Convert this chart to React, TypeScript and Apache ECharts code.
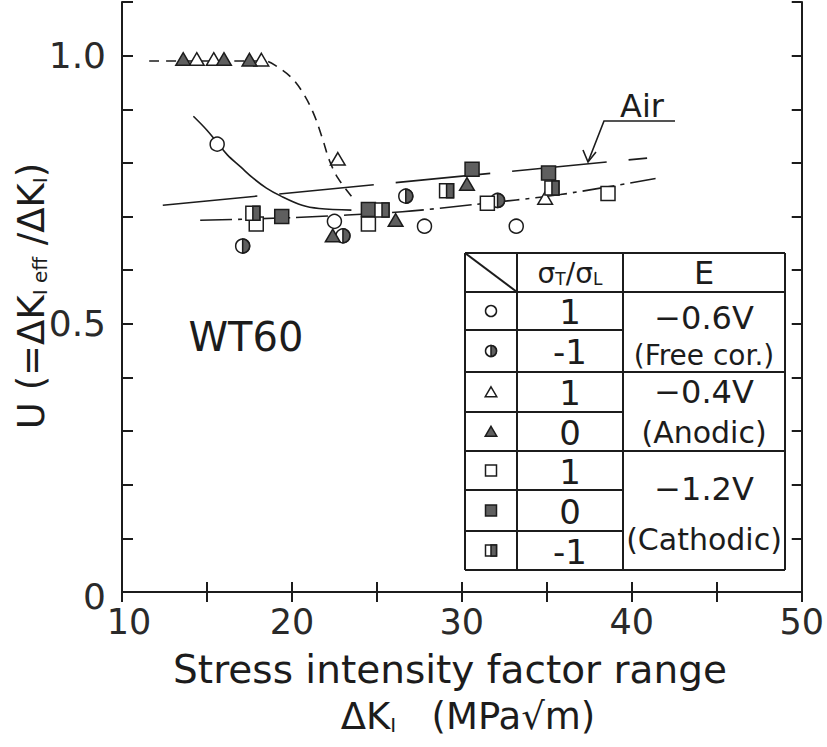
import React, { useEffect, useRef } from 'react';
import * as echarts from 'echarts';

// ---------- data (ΔK_I [MPa√m], U) ----------
const xTickLabels = [10, 20, 30, 40, 50];
const yTickLabels: [number, string][] = [[0, '0'], [0.5, '0.5'], [1.0, '1.0']];

const freeCorR1 = [[15.6, 0.835], [22.5, 0.691], [27.8, 0.682], [33.2, 0.682]]; // ○  σT/σL = 1, -0.6V
const freeCorRm1 = [[17.1, 0.645], [23.0, 0.664], [26.7, 0.738], [32.1, 0.730]]; // ◑ σT/σL = -1
const anodicR1 = [[14.4, 0.993], [15.4, 0.993], [18.2, 0.992], [22.7, 0.807], [34.9, 0.734]]; // △
const anodicR0 = [[13.6, 0.993], [16.0, 0.993], [17.5, 0.992], [22.4, 0.664], [26.1, 0.693], [30.3, 0.760]]; // ▲
const cathR1 = [[17.9, 0.686], [24.5, 0.686], [31.5, 0.725], [38.6, 0.743]]; // □
const cathR0 = [[19.4, 0.700], [24.5, 0.713], [30.6, 0.788], [35.1, 0.781]]; // ■
const cathRm1 = [[17.7, 0.706], [25.3, 0.712], [29.1, 0.748], [35.3, 0.753]]; // ◨

// fitted curves
const anodicCurve = [[11.6, 0.99], [18.4, 0.99], [19.2, 0.978], [20.0, 0.958], [20.7, 0.928], [21.3, 0.89], [21.8, 0.845], [22.2, 0.805], [22.7, 0.772], [23.5, 0.738]];
const freeCorCurve = [[14.2, 0.887], [15.0, 0.861], [15.6, 0.838], [16.2, 0.815], [17.0, 0.792], [17.7, 0.772], [18.5, 0.753], [19.3, 0.739], [20.6, 0.721], [21.6, 0.715], [23.5, 0.712]];
const airLine = [[12.4, 0.721], [40.9, 0.809]];
const fitLine = [[14.6, 0.693], [20.0, 0.698], [26.5, 0.709], [30.6, 0.722], [35.8, 0.741], [41.4, 0.771]];

const tableRatios = ['1', '-1', '1', '0', '1', '0', '-1'];
const tableKinds = ['circle', 'halfCircle', 'triOpen', 'triFilled', 'sqOpen', 'sqFilled', 'sqHalf'];

const INK = '#1c1c1c';
const GREY = '#5f5f5f';
const FONT = "'DejaVu Sans', sans-serif";

function markerEl(kind: string, cx: number, cy: number, s: number): any {
  const h = s / 2;
  const st = { stroke: INK, lineWidth: 1.5 };
  switch (kind) {
    case 'circle':
      return { type: 'circle', shape: { cx, cy, r: h }, style: { fill: '#fff', ...st } };
    case 'halfCircle':
      return {
        type: 'group',
        children: [
          { type: 'circle', shape: { cx, cy, r: h }, style: { fill: '#fff', ...st } },
          { type: 'sector', shape: { cx, cy, r0: 0, r: h, startAngle: -Math.PI / 2, endAngle: Math.PI / 2, clockwise: true }, style: { fill: GREY, ...st } },
        ],
      };
    case 'triOpen':
    case 'triFilled':
      return {
        type: 'polygon',
        shape: { points: [[cx, cy - h * 0.95], [cx + h * 1.05, cy + h * 0.85], [cx - h * 1.05, cy + h * 0.85]] },
        style: { fill: kind === 'triOpen' ? '#fff' : GREY, ...st },
      };
    case 'sqOpen':
    case 'sqFilled':
      return { type: 'rect', shape: { x: cx - h, y: cy - h, width: s, height: s }, style: { fill: kind === 'sqOpen' ? '#fff' : GREY, ...st } };
    case 'sqHalf':
    default:
      return {
        type: 'group',
        children: [
          { type: 'rect', shape: { x: cx - h, y: cy - h, width: s, height: s }, style: { fill: '#fff', ...st } },
          { type: 'rect', shape: { x: cx, y: cy - h, width: h, height: s }, style: { fill: GREY, ...st } },
        ],
      };
  }
}

function withZ(el: any, z: number): any {
  el.z = z;
  if (el.children) el.children.forEach((c: any) => withZ(c, z));
  return el;
}

function markerSeries(name: string, data: number[][], kind: string): any {
  return {
    name,
    type: 'custom',
    data,
    encode: { x: 0, y: 1 },
    z: 10,
    renderItem: (_p: any, api: any) => {
      const pt = api.coord([api.value(0), api.value(1)]);
      return markerEl(kind, pt[0], pt[1], 14);
    },
  };
}

function lineSeries(name: string, data: number[][], dash: any, smooth: number | boolean): any {
  return {
    name,
    type: 'line',
    data,
    symbol: 'none',
    smooth,
    z: 3,
    lineStyle: { color: INK, width: 1.6, type: dash },
  };
}

export default function App() {
  const ref = useRef<HTMLDivElement>(null);
  useEffect(() => {
    if (!ref.current) return;
    const chart = echarts.init(ref.current, undefined, { renderer: 'svg' });

    // table geometry
    const tL = 465, c1 = 517, c2 = 623, tR = 785;
    const rows = [253, 292, 330, 372, 412, 451, 490, 531, 570];
    const tableLines: any[] = [];
    const ln = (x1: number, y1: number, x2: number, y2: number) =>
      tableLines.push({ type: 'line', shape: { x1, y1, x2, y2 }, style: { stroke: INK, lineWidth: 2 }, z: 101 });
    ln(tL, rows[0], tR, rows[0]);
    ln(tL, rows[1], tR, rows[1]);
    ln(tL, rows[2], c2, rows[2]);
    ln(tL, rows[3], tR, rows[3]);
    ln(tL, rows[4], c2, rows[4]);
    ln(tL, rows[5], tR, rows[5]);
    ln(tL, rows[6], c2, rows[6]);
    ln(tL, rows[7], c2, rows[7]);
    ln(tL, rows[8], tR, rows[8]);
    [tL, c1, c2, tR].forEach((x) => ln(x, rows[0], x, rows[8]));
    ln(tL, rows[0], c1, rows[1]);

    const tableTexts: any[] = [];
    const txt = (text: string, x: number, y: number, size: number, extra: any = {}) =>
      tableTexts.push({
        type: 'text',
        x,
        y,
        z: 102,
        style: { text, fill: INK, font: `${size}px ${FONT}`, align: 'center', verticalAlign: 'middle', ...extra },
      });
    tableRatios.forEach((r, i) => {
      txt(r, (c1 + c2) / 2, (rows[i + 1] + rows[i + 2]) / 2 + 1, 34);
    });
    txt('E', (c2 + tR) / 2, 273, 32);
    tableTexts.push({
      type: 'text',
      x: (c1 + c2) / 2,
      y: 273,
      z: 102,
      style: {
        text: '{a|σ}{s|T}{a|/σ}{s|L}',
        align: 'center',
        verticalAlign: 'middle',
        fill: INK,
        rich: {
          a: { font: `28px ${FONT}`, fill: INK },
          s: { font: `17px ${FONT}`, fill: INK, verticalAlign: 'bottom', padding: [10, 0, 0, 0] },
        },
      },
    });
    const cx3 = (c2 + tR) / 2;
    txt('−0.6V', cx3, 318, 32);
    txt('(Free cor.)', cx3, 355, 28);
    txt('−0.4V', cx3, 392, 32);
    txt('(Anodic)', cx3, 432, 30);
    txt('−1.2V', cx3, 489, 32);
    txt('(Cathodic)', cx3, 539, 30);

    const legendMarks = tableKinds.map((k, i) =>
      withZ(markerEl(k, (tL + c1) / 2, (rows[i + 1] + rows[i + 2]) / 2, 11), 102)
    );

    const option: any = {
      animation: false,
      backgroundColor: '#fff',
      textStyle: { fontFamily: FONT },
      grid: { left: 122, right: 25, top: 2, bottom: 155, containLabel: false },
      xAxis: [
        {
          type: 'value',
          min: 10,
          max: 50,
          interval: 5,
          position: 'bottom',
          axisLine: { lineStyle: { color: INK, width: 2 } },
          axisTick: { inside: true, length: 10, lineStyle: { color: INK, width: 2 } },
          axisLabel: {
            color: '#2a2a2a',
            fontSize: 35,
            lineHeight: 36,
            margin: 12,
            formatter: (v: number) => (v === 10 ? '{f|10}' : xTickLabels.includes(v) ? String(v) : ''),
            rich: { f: { fontSize: 35, lineHeight: 36, color: '#2a2a2a', padding: [0, 0, 0, 14] } },
          },
          splitLine: { show: false },
        },
        {
          type: 'value',
          min: 10,
          max: 50,
          interval: 5,
          position: 'top',
          axisLine: { lineStyle: { color: INK, width: 2 } },
          axisTick: { inside: true, length: 10, lineStyle: { color: INK, width: 2 } },
          axisLabel: { show: false },
          splitLine: { show: false },
        },
      ],
      yAxis: [
        {
          type: 'value',
          min: 0,
          max: 1.1,
          interval: 0.1,
          position: 'left',
          axisLine: { lineStyle: { color: INK, width: 2 } },
          axisTick: { inside: true, length: 11, lineStyle: { color: INK, width: 2 } },
          axisLabel: {
            color: '#2a2a2a',
            fontSize: 36,
            margin: 16,
            formatter: (v: number) => {
              const hit = yTickLabels.find(([val]) => Math.abs(val - v) < 1e-6);
              if (!hit) return '';
              return hit[0] === 0 ? '{z|0}' : hit[1];
            },
            rich: { z: { fontSize: 36, color: '#2a2a2a', padding: [8, 0, 0, 0] } },
          },
          splitLine: { show: false },
        },
        {
          type: 'value',
          min: 0,
          max: 1.1,
          interval: 0.1,
          position: 'right',
          axisLine: { lineStyle: { color: INK, width: 2 } },
          axisTick: { inside: true, length: 10, lineStyle: { color: INK, width: 2 } },
          axisLabel: { show: false },
          splitLine: { show: false },
        },
      ],
      series: [
        lineSeries('Anodic fit', anodicCurve, [10, 7], 0.35),
        lineSeries('Free corrosion fit', freeCorCurve, 'solid', 0.35),
        lineSeries('Air', airLine, [95, 22], false),
        lineSeries('Cathodic fit', fitLine, [32, 6, 4, 6], 0.3),
        markerSeries('-0.6V, 1', freeCorR1, 'circle'),
        markerSeries('-0.6V, -1', freeCorRm1, 'halfCircle'),
        markerSeries('-0.4V, 1', anodicR1, 'triOpen'),
        markerSeries('-0.4V, 0', anodicR0, 'triFilled'),
        markerSeries('-1.2V, 1', cathR1, 'sqOpen'),
        markerSeries('-1.2V, 0', cathR0, 'sqFilled'),
        markerSeries('-1.2V, -1', cathRm1, 'sqHalf'),
      ],
      graphic: [
        { type: 'rect', shape: { x: tL, y: rows[0], width: tR - tL, height: rows[8] - rows[0] }, style: { fill: '#fff' }, z: 100 },
        ...tableLines,
        ...tableTexts,
        ...legendMarks,
        {
          type: 'text',
          x: 642,
          y: 106,
          z: 50,
          style: { text: 'Air', fill: INK, font: `32px ${FONT}`, align: 'center', verticalAlign: 'middle' },
        },
        { type: 'polyline', z: 50, shape: { points: [[675, 121], [604, 121], [588, 162]] }, style: { stroke: INK, lineWidth: 1.6, fill: 'none' } },
        { type: 'polyline', z: 50, shape: { points: [[583, 150], [588, 162], [596, 152]] }, style: { stroke: INK, lineWidth: 1.6, fill: 'none' } },
        {
          type: 'text',
          x: 246,
          y: 337,
          z: 50,
          style: { text: 'WT60', fill: INK, font: `40px ${FONT}`, align: 'center', verticalAlign: 'middle' },
        },
        {
          type: 'text',
          x: 31,
          y: 296,
          rotation: Math.PI / 2,
          z: 50,
          style: {
            text: '{a|U (=ΔK}{s|I eff}{a| /ΔK}{s|I}{a|)}',
            align: 'center',
            verticalAlign: 'middle',
            fill: INK,
            rich: {
              a: { font: `37px ${FONT}`, fill: INK },
              s: { font: `20px ${FONT}`, fill: INK, verticalAlign: 'bottom', padding: [12, 0, 0, 0] },
            },
          },
        },
        {
          type: 'text',
          x: 450,
          y: 669,
          z: 50,
          style: { text: 'Stress intensity factor range', fill: INK, font: `39px ${FONT}`, lineHeight: 42, align: 'center', verticalAlign: 'middle' },
        },
        {
          type: 'text',
          x: 468,
          y: 716,
          z: 50,
          style: {
            text: '{a|ΔK}{s|I}{a|   (MPa√m)}',
            align: 'center',
            verticalAlign: 'middle',
            fill: INK,
            rich: {
              a: { font: `37px ${FONT}`, fill: INK },
              s: { font: `20px ${FONT}`, fill: INK, verticalAlign: 'bottom', padding: [14, 0, 0, 0] },
            },
          },
        },
      ],
    };
    chart.setOption(option);
    return () => chart.dispose();
  }, []);
  return <div ref={ref} style={{ position: 'absolute', left: 0, top: 0, width: 827, height: 747 }} />;
}
